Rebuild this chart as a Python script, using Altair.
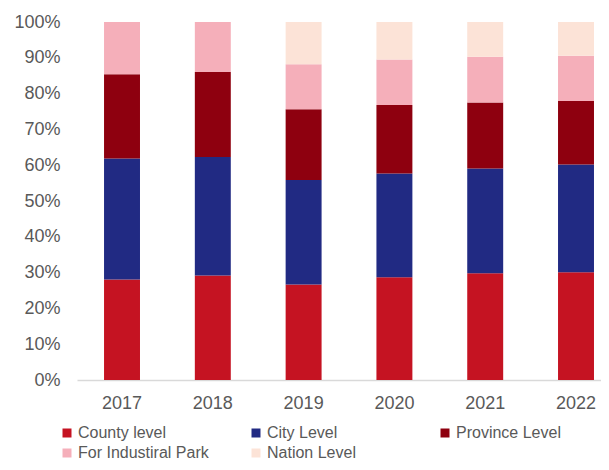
import altair as alt
import pandas as pd

years = ["2017", "2018", "2019", "2020", "2021", "2022"]
categories = ["County level", "City Level", "Province Level", "For Industiral Park", "Nation Level"]
colors = ["#C51322", "#212A83", "#8E000F", "#F5AFBA", "#FCE3D7"]

county = [28.1, 29.2, 26.7, 28.7, 29.8, 30.1]
city = [33.8, 33.1, 29.2, 29.0, 29.3, 30.1]
province = [23.5, 23.7, 19.7, 19.1, 18.4, 17.7]
park = [14.6, 14.0, 12.6, 12.7, 12.8, 12.7]
nation = [0.0, 0.0, 11.8, 10.5, 9.7, 9.4]

series = [county, city, province, park, nation]
rows = []
for ci, (cat, vals) in enumerate(zip(categories, series)):
    for y, v in zip(years, vals):
        rows.append({"year": y, "category": cat, "value": v, "idx": ci})
df = pd.DataFrame(rows)

# legend is filled column by column (2 rows), so order entries to read row-wise
legend_order = [0, 3, 1, 4, 2]
leg_domain = [categories[i] for i in legend_order]
leg_range = [colors[i] for i in legend_order]

FONT = "Liberation Sans"
GREY = "#595959"

chart = alt.Chart(df).mark_bar().encode(
    x=alt.X("year:N", sort=years, title=None,
            scale=alt.Scale(paddingInner=0.604, paddingOuter=0.1875, align=0.794),
            axis=alt.Axis(labelAngle=0, labelFontSize=18, labelColor=GREY, labelFont=FONT,
                          ticks=False, labelPadding=14, domainColor="#d9d9d9",
                          domainWidth=1.5, grid=False)),
    y=alt.Y("value:Q", stack="normalize", title=None,
            scale=alt.Scale(domain=[0, 1], nice=False),
            axis=alt.Axis(format=".0%", values=[i / 10 for i in range(11)],
                          labelFontSize=18, labelColor=GREY, labelFont=FONT,
                          ticks=False, domain=False, grid=False, labelPadding=17)),
    color=alt.Color("category:N",
                    scale=alt.Scale(domain=leg_domain, range=leg_range),
                    legend=alt.Legend(title=None, orient="none", legendX=-18, legendY=403,
                                      columns=3, gridAlign="all", columnPadding=39,
                                      rowPadding=4, symbolType="square", symbolSize=81,
                                      symbolStrokeWidth=0, labelFontSize=16,
                                      labelColor=GREY, labelFont=FONT, labelOffset=3,
                                      padding=0, labelLimit=300)),
    order=alt.Order("idx:Q", sort="ascending"),
).properties(
    width=524, height=358, autosize="none",
    padding={"left": 69, "top": 14, "right": 0, "bottom": 82},
).configure_view(stroke=None)

chart.save("out.html", embed_options={"renderer": "svg", "actions": False})
